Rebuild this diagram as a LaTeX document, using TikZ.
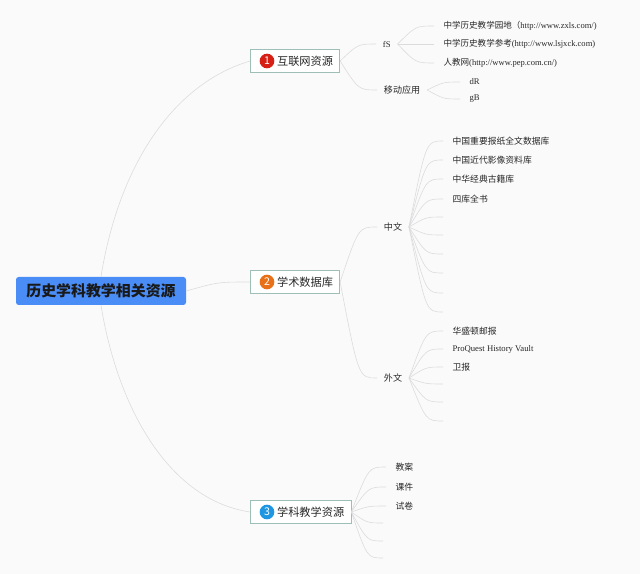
\documentclass[tikz,border=0pt]{standalone}
\usepackage{fontspec}
\setmainfont{Liberation Serif}
\newfontfamily\cjk{Noto Sans CJK SC}
\usetikzlibrary{positioning,calc}
\definecolor{rootBlue}{RGB}{75,141,246}
\definecolor{boxEdge}{RGB}{158,190,184}
\definecolor{linkGray}{RGB}{220,220,222}
\definecolor{badgeRed}{RGB}{214,32,22}
\definecolor{badgeOrange}{RGB}{232,112,24}
\definecolor{badgeBlue}{RGB}{30,150,225}
\definecolor{paper}{RGB}{250,250,251}
\definecolor{ink}{RGB}{40,40,40}
\tikzset{
  root/.style={fill=rootBlue, rounded corners=2pt, minimum width=127.5pt,
    minimum height=21pt, inner sep=0pt, text=black!90,
    font=\cjk\bfseries\fontsize{11.2}{13}\selectfont},
  topic/.style={draw=boxEdge, fill=white, line width=0.6pt, anchor=west,
    minimum height=17.25pt, inner xsep=5pt, inner ysep=0pt, text=ink,
    font=\cjk\fontsize{8.4}{10}\selectfont},
  badge/.style={circle, fill=#1, text=white, inner sep=0pt, minimum size=11pt,
    font=\cjk\fontsize{8}{8}\selectfont},
  branch/.style={anchor=west, inner xsep=5pt, inner ysep=1pt, text=ink,
    font=\cjk\fontsize{6.8}{8}\selectfont},
  leaf/.style={anchor=west, inner xsep=7pt, inner ysep=1pt, text=ink,
    font=\cjk\fontsize{6.6}{8}\selectfont},
  latin/.style={font=\fontsize{6.5}{8}\selectfont},
  link/.style={draw=linkGray, line width=0.45pt},
  twig/.style={to path={let \p1=(\tikztostart), \p2=(\tikztotarget) in
    .. controls ({0.5*\x1+0.5*\x2},\y2) .. (\tikztotarget) \tikztonodes}},
}
\begin{document}
\begin{tikzpicture}[x=0.75pt,y=-0.75pt]
  \fill[paper] (0,0) rectangle (640,574);
  \useasboundingbox (0,0) rectangle (640,574);
  % root and main topics
  \node[root] (root) at (101,291) {历史学科教学相关资源};
  \node[topic] (t1) at (250,61) {\hspace*{15pt}互联网资源};
  \node[topic] (t2) at (250,282) {\hspace*{15pt}学术数据库};
  \node[topic] (t3) at (250,512) {\hspace*{15pt}学科教学资源};
  \node[badge=badgeRed] (b1) at ([xshift=12.75pt]t1.west) {1};
  \node[badge=badgeOrange] (b2) at ([xshift=12.75pt]t2.west) {2};
  \node[badge=badgeBlue] (b3) at ([xshift=12.75pt]t3.west) {3};
  \draw[link] (root.north) .. controls (118,170) and (170,85) .. (t1.west);
  \draw[link] (root.east) to[twig] (t2.west);
  \draw[link] (root.south) .. controls (118,410) and (170,500) .. (t3.west);

  % internet resources
  \node[branch, latin] (fs) at (376,44) {fS};
  \node[branch] (app) at (377,90) {移动应用};
  \draw[link] (t1.east) to[twig] (fs.west);
  \draw[link] (t1.east) to[twig] (app.west);
  \node[leaf, font=\fontsize{6.4}{8}\selectfont] (web-1) at (434,26)
    {{\cjk\fontsize{6.4}{8}\selectfont 中学历史教学园地（}http://www.zxls.com/)};
  \node[leaf, font=\fontsize{6.4}{8}\selectfont] (web-2) at (434,44)
    {{\cjk\fontsize{6.4}{8}\selectfont 中学历史教学参考}(http://www.lsjxck.com)};
  \node[leaf, font=\fontsize{6.4}{8}\selectfont] (web-3) at (434,63)
    {{\cjk\fontsize{6.4}{8}\selectfont 人教网}(http://www.pep.com.cn/)};
  \foreach \i in {1,2,3} \draw[link] (fs.east) to[twig] (web-\i.west);
  \node[leaf, latin] (app-1) at (460,82) {dR};
  \node[leaf, latin] (app-2) at (460,99) {gB};
  \foreach \i in {1,2} \draw[link] (app.east) to[twig] (app-\i.west);

  % databases
  \node[branch] (zw) at (377,227) {中文};
  \node[branch] (ww) at (377,378) {外文};
  \draw[link] (t2.east) to[twig] (zw.west);
  \draw[link] (t2.east) to[twig] (ww.west);
  \foreach \t/\y [count=\i] in {中国重要报纸全文数据库/141, 中国近代影像资料库/160,
      中华经典古籍库/179, 四库全书/199}
    \node[leaf] (zw-\i) at (443,\y) {\t};
  \foreach \y [count=\i from 5] in {217,235,254,273,293,312}
    \coordinate (zw-\i) at (443,\y);
  \foreach \i in {1,...,4} \draw[link] (zw.east) to[twig] (zw-\i.west);
  \foreach \i in {5,...,10} \draw[link] (zw.east) to[twig] (zw-\i);
  \node[leaf] (ww-1) at (443,331) {华盛顿邮报};
  \node[leaf, latin] (ww-2) at (443,349) {ProQuest History Vault};
  \node[leaf] (ww-3) at (443,367) {卫报};
  \foreach \y [count=\i from 4] in {384,402,421}
    \coordinate (ww-\i) at (443,\y);
  \foreach \i in {1,2,3} \draw[link] (ww.east) to[twig] (ww-\i.west);
  \foreach \i in {4,5,6} \draw[link] (ww.east) to[twig] (ww-\i);

  % teaching resources
  \foreach \t/\y [count=\i] in {教案/467, 课件/487, 试卷/506}
    \node[leaf] (jx-\i) at (386,\y) {\t};
  \foreach \y [count=\i from 4] in {523,541,558}
    \coordinate (jx-\i) at (383,\y);
  \foreach \i in {1,2,3} \draw[link] (t3.east) to[twig] (jx-\i.west);
  \foreach \i in {4,5,6} \draw[link] (t3.east) to[twig] (jx-\i);
\end{tikzpicture}
\end{document}
